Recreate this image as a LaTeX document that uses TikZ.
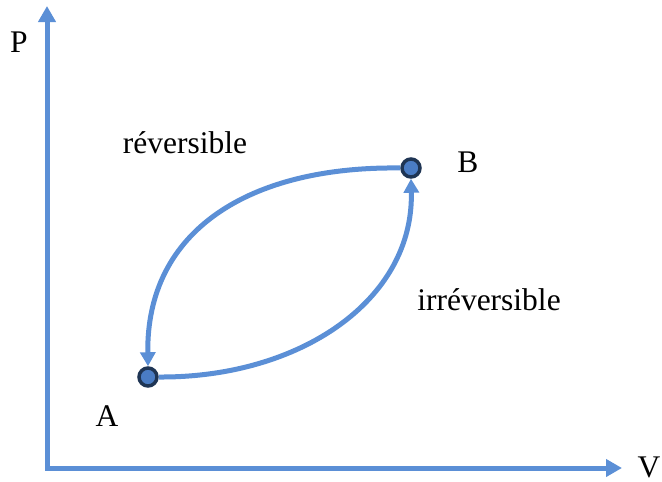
\documentclass[tikz,border=0pt]{standalone}
\usepackage{fontspec}
\setmainfont{Liberation Serif}
\usetikzlibrary{arrows.meta}
\definecolor{lineblue}{HTML}{5B8FD6}
\definecolor{dotfill}{HTML}{4A7CC4}
\definecolor{dotrim}{HTML}{1F3554}
\begin{document}
\begin{tikzpicture}[x=1pt,y=-1pt,
  axis/.style={line width=5pt,draw=lineblue,-{Triangle[width=17pt,length=16pt]}},
  path/.style={line width=5pt,draw=lineblue,-{Triangle[width=15pt,length=14pt]}},
  dot/.style={circle,minimum size=18pt,inner sep=0pt,line width=3.5pt,draw=dotrim,fill=dotfill},
  lbl/.style={font=\fontsize{31.5}{36}\selectfont,inner sep=0pt}]
\useasboundingbox (0,0) rectangle (662,482);
\coordinate (O) at (47,470);
\coordinate (Ptop) at (47,6);
\coordinate (Vend) at (622,468);
\draw[axis] (O) -- (Ptop);
\draw[axis] (45,468) -- (Vend);
\node[dot] (A) at (148,377) {};
\node[dot] (B) at (411,168) {};
\draw[path] (B.west) .. controls (250,166) and (146,230) .. (A.north);
\draw[path] (A.east) .. controls (300,378) and (414,300) .. (B.south);
\node[lbl] (P) at (19,42) {P};
\node[lbl] (V) at (649,467) {V};
\node[lbl] (la) at (107,416) {A};
\node[lbl] (lb) at (468,162) {B};
\node[lbl] (rev) at (185,143) {réversible};
\node[lbl] (irr) at (489,300) {irréversible};
\end{tikzpicture}
\end{document}
